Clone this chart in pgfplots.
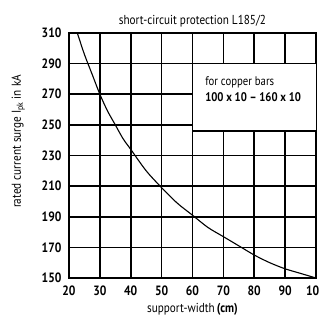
\documentclass[border=0pt]{standalone}
\usepackage{pgfplots}
\pgfplotsset{compat=1.18}
\usepackage{fontspec}
\setmainfont[FakeStretch=0.86]{PT Sans}
\begin{document}
\begin{tikzpicture}
\begin{axis}[
  scale only axis,
  width=247pt, height=245pt,
  xmin=20, xmax=100, ymin=150, ymax=310,
  xtick={20,30,...,100}, ytick={150,170,...,310},
  grid=major,
  grid style={black, line width=1.6pt},
  axis line style={black, line width=1.6pt},
  tick style={draw=none},
  /pgf/number format/assume math mode=true,
  ticklabel style={font=\fontsize{13.5}{14}\selectfont\bfseries},
  xticklabel style={yshift=-4pt},
  yticklabel style={xshift=-4pt},
  title={short-circuit protection L185/2},
  title style={font=\fontsize{13}{14}\selectfont, yshift=-4pt},
  xlabel={support-width\,\textbf{(cm)}},
  ylabel={rated current surge I\textsubscript{pk} in kA},
  label style={font=\fontsize{13}{14}\selectfont},
  xlabel style={yshift=-1pt},
  ylabel style={yshift=10pt, xshift=14pt},
]
\filldraw[fill=white, draw=black, line width=1.6pt] (axis cs:60,290) rectangle (axis cs:101,246);
\node[anchor=north west, align=left, font=\fontsize{12.5}{16}\selectfont] at (axis cs:63,284)
  {for copper bars\\\textbf{100 x 10 -- 160 x 10}};
\addplot[black, line width=1.1pt, smooth] coordinates {
(22.7,310) (25,296) (27.5,283) (30,270) (32.5,259) (35,250) (37.5,241) (40,234)
(45,220) (50,209) (55,199) (60,191) (65,183) (70,177) (75,171) (80,165)
(85,160) (90,156) (95,153) (100,150)
};
\end{axis}
\pgfresetboundingbox
\path[use as bounding box] ([xshift=-69pt,yshift=-40pt]current axis.south west) rectangle ([xshift=3pt,yshift=33pt]current axis.north east);
\end{tikzpicture}
\end{document}
